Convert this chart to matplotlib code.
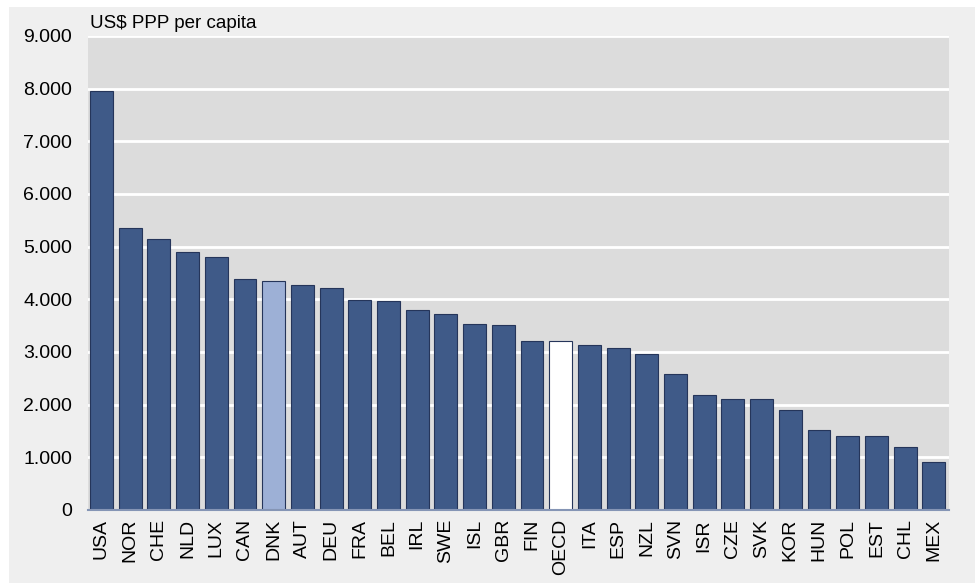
import matplotlib
matplotlib.use("Agg")
import matplotlib.pyplot as plt
from matplotlib.patches import Rectangle
from matplotlib.ticker import FuncFormatter

countries = ["USA", "NOR", "CHE", "NLD", "LUX", "CAN", "DNK", "AUT", "DEU", "FRA",
             "BEL", "IRL", "SWE", "ISL", "GBR", "FIN", "OECD", "ITA", "ESP", "NZL",
             "SVN", "ISR", "CZE", "SVK", "KOR", "HUN", "POL", "EST", "CHL", "MEX"]
values = [7960, 5350, 5140, 4900, 4800, 4380, 4340, 4270, 4210, 3995,
          3960, 3790, 3720, 3540, 3510, 3210, 3210, 3140, 3070, 2970,
          2590, 2180, 2100, 2100, 1890, 1510, 1400, 1400, 1190, 910]
yticks = [0, 1000, 2000, 3000, 4000, 5000, 6000, 7000, 8000, 9000]
ylabel_text = "US$ PPP per capita"

base_color = "#3f5a88"
dnk_color = "#9db0d6"
oecd_color = "#ffffff"
colors = [dnk_color if c == "DNK" else oecd_color if c == "OECD" else base_color
          for c in countries]

plt.rcParams["font.family"] = ["Liberation Sans", "DejaVu Sans"]

fig = plt.figure(figsize=(9.75, 5.83), dpi=100, facecolor="white")
bg = Rectangle((9 / 975, 0), 1 - 9 / 975, 576 / 583,
               transform=fig.transFigure, facecolor="#efefef",
               edgecolor="none", zorder=-10)
fig.patches.append(bg)

ax = fig.add_axes([88 / 975, 73 / 583, (949 - 88) / 975, (510 - 36) / 583])
ax.set_zorder(5)
ax.set_facecolor("#dcdcdc")

x = list(range(len(countries)))
ax.bar(x, values, width=0.8, color=colors, edgecolor="#25355a", linewidth=0.8, zorder=3)

ax.set_ylim(0, 9000)
ax.set_xlim(-0.47, len(countries) - 0.47)
ax.set_yticks(yticks)
ax.yaxis.set_major_formatter(FuncFormatter(lambda v, p: f"{int(v):,}".replace(",", ".")))
ax.grid(axis="y", color="white", linewidth=2, zorder=1)
ax.set_axisbelow(True)

ax.set_xticks(x)
ax.set_xticklabels(countries, rotation=90, fontsize=14)
ax.tick_params(axis="x", length=0, pad=6.5)
ax.tick_params(axis="y", length=0, pad=11.5, labelsize=14)

for s in ["top", "right", "left"]:
    ax.spines[s].set_visible(False)
ax.spines["bottom"].set_color("#8595b5")
ax.spines["bottom"].set_linewidth(1.5)
ax.spines["bottom"].set_zorder(4)

fig.text(90 / 975, 1 - 23 / 583, ylabel_text, fontsize=13.5, ha="left", va="center",
         zorder=6)

fig.savefig("out.png", dpi=100, facecolor=fig.get_facecolor())
